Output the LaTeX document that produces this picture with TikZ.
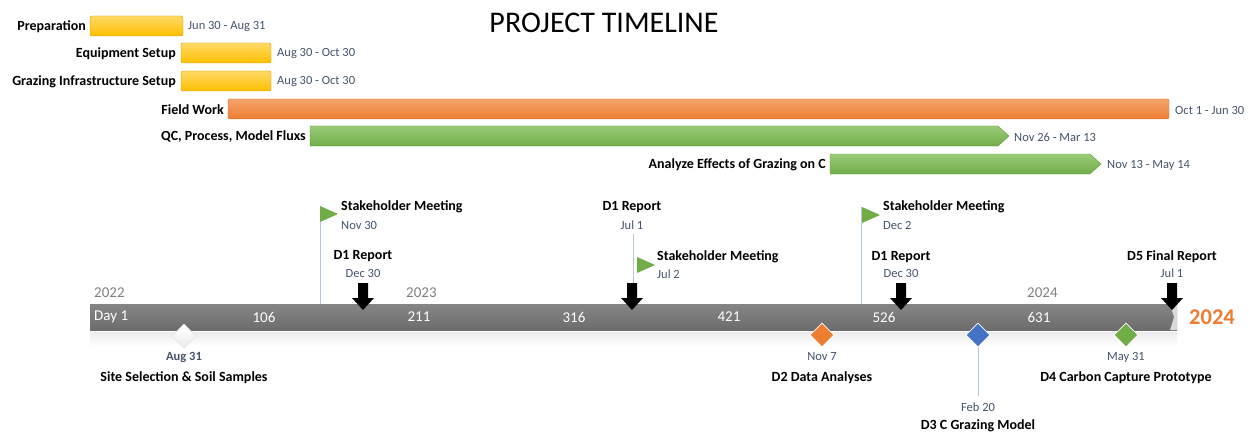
\documentclass[tikz,border=0pt]{standalone}
\usepackage{fontspec}
\setmainfont{Carlito}
\usetikzlibrary{shapes.geometric}
\definecolor{cyel}{HTML}{FFC000}
\definecolor{cyeltop}{HTML}{FFD966}
\definecolor{corg}{HTML}{ED7D31}
\definecolor{corgtop}{HTML}{F4A46C}
\definecolor{cgrn}{HTML}{70AD47}
\definecolor{cgrntop}{HTML}{9BCB7A}
\definecolor{cblu}{HTML}{4472C4}
\definecolor{cdate}{HTML}{44546A}
\definecolor{cline}{HTML}{B4C7E7}
\definecolor{cbar}{HTML}{7F7F7F}
\tikzset{
  lbl/.style={font=\fontsize{14}{16}\selectfont\bfseries, text=black, inner sep=0pt},
  dt/.style={font=\fontsize{12.5}{14}\selectfont, text=cdate, inner sep=0pt},
  yrlbl/.style={font=\fontsize{15}{17}\selectfont, text=gray, inner sep=0pt, anchor=west},
  daylbl/.style={font=\fontsize{15}{17}\selectfont, text=white, inner sep=0pt},
  ybar/.style={top color=cyeltop, bottom color=cyel, draw=cyel!80!black, line width=0.4pt, rounded corners=2pt},
  obar/.style={top color=corgtop, bottom color=corg, draw=corg!85!black, line width=0.4pt, rounded corners=2pt},
  gbar/.style={top color=cgrntop, bottom color=cgrn, draw=cgrn!90!black, line width=0.4pt},
  flag/.style={fill=cgrn, draw=none},
  vline/.style={draw=cline, line width=0.8pt},
  blk/.style={fill=black, draw=none},
  dia/.style={diamond, minimum width=24pt, minimum height=24pt, inner sep=0pt, draw=white, line width=0.6pt},
}
\begin{document}
\begin{tikzpicture}[x=1pt,y=-1pt]
\useasboundingbox (0,0) rectangle (1249,433);
% title
\node[font=\fontsize{30}{32}\selectfont, inner sep=0pt] (title) at (604,23) {PROJECT TIMELINE};
% gantt bars
\draw[ybar] (90,16) rectangle (183,36);
\node[lbl, anchor=east] (l1) at (86,27) {Preparation};
\node[dt, anchor=west] (d1) at (188,27) {Jun 30 - Aug 31};
\draw[ybar] (181,43) rectangle (271,63);
\node[lbl, anchor=east] (l2) at (176,54) {Equipment Setup};
\node[dt, anchor=west] (d2) at (277,54) {Aug 30 - Oct 30};
\draw[ybar] (181,71) rectangle (271,91);
\node[lbl, anchor=east] (l3) at (176,82) {Grazing Infrastructure Setup};
\node[dt, anchor=west] (d3) at (277,82) {Aug 30 - Oct 30};
\draw[obar] (228,99) rectangle (1169,119);
\node[lbl, anchor=east] (l4) at (224,110) {Field Work};
\node[dt, anchor=west] (d4) at (1175,110) {Oct 1 - Jun 30};
\draw[gbar] (310,126) -- (998,126) -- (1009,136) -- (998,146) -- (310,146) -- cycle;
\node[lbl, anchor=east] (l5) at (306,137) {QC, Process, Model Fluxs};
\node[dt, anchor=west] (d5) at (1014,137) {Nov 26 - Mar 13};
\draw[gbar] (830,154) -- (1090,154) -- (1101,164) -- (1090,174) -- (830,174) -- cycle;
\node[lbl, anchor=east] (l6) at (826,165) {Analyze Effects of Grazing on C};
\node[dt, anchor=west] (d6) at (1107,165) {Nov 13 - May 14};
% timeline bar
\shade[top color=white!85!gray, bottom color=white] (90,332) rectangle (1177,346);
\shade[top color=cbar!95, bottom color=cbar!85!black] (90,304) rectangle (1177,330);
\fill[white!70!gray] (1170,304) -- (1177,304) -- (1177,330) -- (1170,330) -- (1174,317) -- cycle;
\node[yrlbl] (y22) at (94,293) {2022};
\node[yrlbl] (y23) at (406,293) {2023};
\node[yrlbl] (y24) at (1027,293) {2024};
\node[daylbl, anchor=west] (t0) at (94,317) {Day 1};
\node[daylbl] (t1) at (264,317) {106};
\node[daylbl] (t2) at (419,317) {211};
\node[daylbl] (t3) at (574,317) {316};
\node[daylbl] (t4) at (729,317) {421};
\node[daylbl] (t5) at (884,317) {526};
\node[daylbl] (t6) at (1039,317) {631};
\node[font=\fontsize{22.5}{25}\selectfont\bfseries, text=corg, anchor=west, inner sep=0pt] (big) at (1189,317) {2024};
% milestones above
% Stakeholder Nov 30
\coordinate (f1) at (320,206);
\coordinate (f1b) at (320,304);
\draw[vline] (f1) -- (f1b);
\fill[flag] (320,206) -- (338,214) -- (320,222) -- cycle;
\node[lbl, anchor=west] (s1) at (341,207) {Stakeholder Meeting};
\node[dt, anchor=west] (s1d) at (341,225) {Nov 30};
% D1 Dec 30
\node[lbl] (r1) at (363,256) {D1 Report};
\node[dt] (r1d) at (363,273) {Dec 30};
\fill[blk] (358,283) -- (368,283) -- (368,298) -- (374,298) -- (363,310) -- (352,298) -- (358,298) -- cycle;
% D1 Jul 1
\node[lbl] (r2) at (632,207) {D1 Report};
\node[dt] (r2d) at (632,225) {Jul 1};
\coordinate (v2a) at (633,234);
\coordinate (v2b) at (633,284);
\draw[vline] (v2a) -- (v2b);
\fill[blk] (627,283) -- (637,283) -- (637,298) -- (643,298) -- (632,310) -- (621,298) -- (627,298) -- cycle;
% Stakeholder Jul 2
\fill[flag] (637,257) -- (655,265) -- (637,273) -- cycle;
\node[lbl, anchor=west] (s2) at (657,257) {Stakeholder Meeting};
\node[dt, anchor=west] (s2d) at (657,274) {Jul 2};
% Stakeholder Dec 2
\coordinate (f3) at (861,207);
\coordinate (f3b) at (861,304);
\draw[vline] (f3) -- (f3b);
\fill[flag] (862,207) -- (880,215) -- (862,223) -- cycle;
\node[lbl, anchor=west] (s3) at (883,207) {Stakeholder Meeting};
\node[dt, anchor=west] (s3d) at (883,225) {Dec 2};
% D1 Dec 30 (2)
\node[lbl] (r3) at (901,257) {D1 Report};
\node[dt] (r3d) at (901,273) {Dec 30};
\fill[blk] (896,283) -- (906,283) -- (906,298) -- (912,298) -- (901,310) -- (890,298) -- (896,298) -- cycle;
% D5
\node[lbl] (r4) at (1172,257) {D5 Final Report};
\node[dt] (r4d) at (1172,273) {Jul 1};
\fill[blk] (1167,283) -- (1177,283) -- (1177,298) -- (1183,298) -- (1172,310) -- (1161,298) -- (1167,298) -- cycle;
% diamonds below
\node[dia, top color=white, bottom color=white!85!gray, draw=white!80!gray] (m1) at (184,336) {};
\node[dt, font=\fontsize{12.5}{14}\selectfont\bfseries] (m1d) at (184,357) {Aug 31};
\node[lbl] (m1l) at (184,378) {Site Selection \& Soil Samples};
\node[dia, fill=corg] (m2) at (822,335) {};
\node[dt] (m2d) at (822,357) {Nov 7};
\node[lbl] (m2l) at (822,378) {D2 Data Analyses};
\coordinate (m3b) at (978,396);
\node[dia, fill=cblu] (m3) at (978,335) {};
\draw[vline] (m3.south) -- (m3b);
\node[dt] (m3d) at (978,407) {Feb 20};
\node[lbl] (m3l) at (978,426) {D3 C Grazing Model};
\node[dia, fill=cgrn] (m4) at (1126,335) {};
\node[dt] (m4d) at (1126,357) {May 31};
\node[lbl] (m4l) at (1126,378) {D4 Carbon Capture Prototype};
\end{tikzpicture}
\end{document}
